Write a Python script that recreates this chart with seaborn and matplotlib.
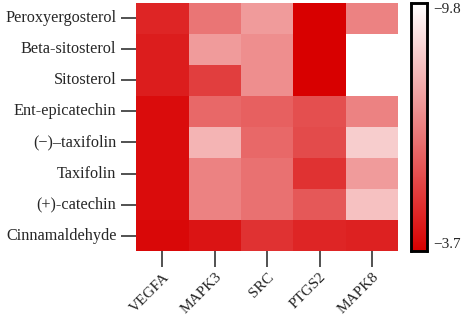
import numpy as np
import pandas as pd
import matplotlib
matplotlib.use("Agg")
import matplotlib.pyplot as plt
import seaborn as sns
from matplotlib.colors import LinearSegmentedColormap

# compounds (rows) and targets (columns)
compounds = ["Peroxyergosterol", "Beta-sitosterol", "Sitosterol", "Ent-epicatechin",
             "(\u2212)\u2013taxifolin", "Taxifolin", "(+)-catechin", "Cinnamaldehyde"]
targets = ["VEGFA", "MAPK3", "SRC", "PTGS2", "MAPK8"]

# binding energies
vegfa = [-4.6, -4.4, -4.4, -4.0, -4.0, -4.0, -4.0, -3.9]
mapk3 = [-6.5, -7.4, -5.2, -6.2, -8.0, -6.8, -6.8, -4.2]
src = [-7.4, -7.1, -7.1, -6.0, -6.2, -6.4, -6.4, -4.9]
ptgs2 = [-3.7, -3.7, -3.7, -5.6, -5.5, -4.9, -5.8, -4.6]
mapk8 = [-6.8, -9.8, -9.8, -6.8, -8.6, -7.4, -8.3, -4.5]
cbar_ticks = [-9.8, -3.7]

df = pd.DataFrame({"VEGFA": vegfa, "MAPK3": mapk3, "SRC": src,
                   "PTGS2": ptgs2, "MAPK8": mapk8}, index=compounds)[targets]

sns.set_style("white")
plt.rcParams['font.family'] = ['Liberation Serif', 'DejaVu Serif']

cmap = LinearSegmentedColormap.from_list("wr", ["#ffffff", "#d80000"])

fig = plt.figure(figsize=(4.62, 3.18), dpi=100)
ax = fig.add_axes([0.295, 0.21, 0.567, 0.782])
cax = fig.add_axes([0.889, 0.21, 0.035, 0.781])

sns.heatmap(df, ax=ax, cbar_ax=cax, cmap=cmap, vmin=cbar_ticks[0], vmax=cbar_ticks[1],
            cbar_kws={"ticks": cbar_ticks})

ax.tick_params(axis="y", length=10.8, width=1.1, color="#222222", labelsize=11.7, pad=3.5,
               left=True)
ax.tick_params(axis="x", length=11.5, width=1.1, color="#222222", labelsize=11, pad=2.5,
               bottom=True)
ax.set_yticklabels(compounds, rotation=0)
ax.set_xticklabels(targets, rotation=45, ha="right", va="top", rotation_mode="anchor")
ax.set_xlabel("")
ax.set_ylabel("")

cax.invert_yaxis()
cax.set_yticklabels(["\u22129.8", "\u22123.7"])
cax.tick_params(length=0, labelsize=11, pad=4.5)
labs = cax.get_yticklabels()
labs[0].set_va("top")
labs[1].set_va("bottom")
for s in cax.spines.values():
    s.set_visible(True)
    s.set_color("black")
    s.set_linewidth(1.8)

fig.savefig("out.png", dpi=100)
